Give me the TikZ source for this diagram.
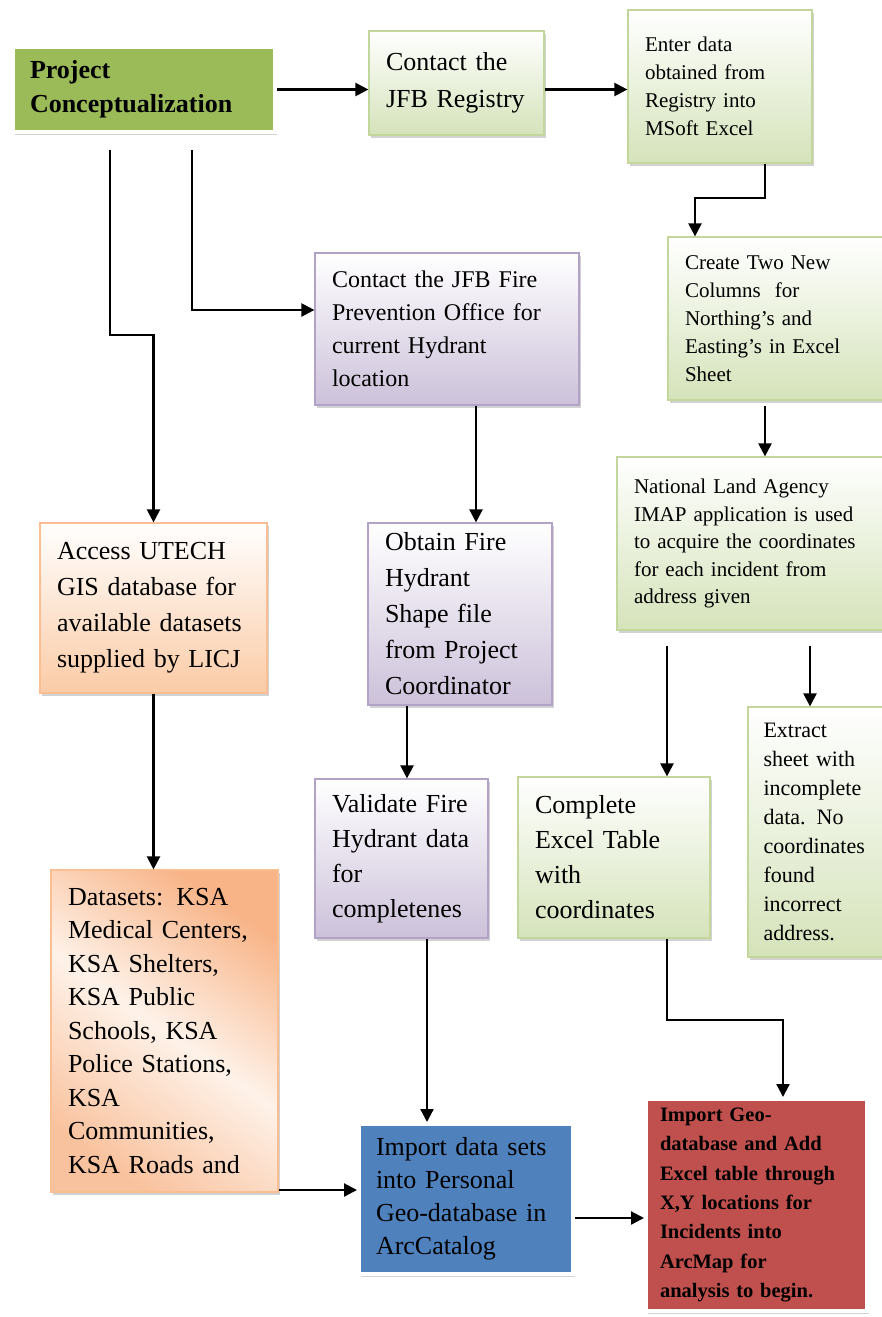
\documentclass[tikz,border=0pt]{standalone}
\usepackage{fontspec}
\setmainfont{Liberation Serif}
\usetikzlibrary{arrows.meta,shadows}

\definecolor{grnsolid}{HTML}{9BBB59}
\definecolor{grnlight}{HTML}{D5E3BA}
\definecolor{grnedge}{HTML}{C3D69B}
\definecolor{purlight}{HTML}{CCC1DA}
\definecolor{puredge}{HTML}{B3A2C7}
\definecolor{orglight}{HTML}{FBCBA6}
\definecolor{orgdark}{HTML}{F8B386}
\definecolor{orgedge}{HTML}{F9BE92}
\definecolor{bluefill}{HTML}{4F81BD}
\definecolor{redfill}{HTML}{C0504D}

\tikzset{
  box/.style={rectangle, align=left, inner xsep=17pt, inner ysep=0pt, text=black,
    drop shadow={shadow xshift=1.5pt, shadow yshift=-3pt, fill=black!35, opacity=0.5}},
  solidbox/.style={box, fill=grnsolid, draw=white, line width=4pt},
  greenbox/.style={box, draw=grnedge, line width=1.2pt, top color=white, bottom color=grnlight},
  purplebox/.style={box, draw=puredge, line width=1.2pt, top color=white, bottom color=purlight},
  orangebox/.style={box, draw=orgedge, line width=1.2pt, top color=white, bottom color=orglight},
  bluebox/.style={box, fill=bluefill, draw=white, line width=4pt},
  redbox/.style={box, fill=redfill, draw=white, line width=4pt},
  arr/.style={line width=2.2pt, -{Triangle[length=13pt,width=13pt]}},
}

\begin{document}
\begin{tikzpicture}[x=1pt,y=1pt]
\useasboundingbox (0,0) rectangle (881,-1317);

% top row
\node[solidbox, minimum width=262pt, minimum height=85pt, text width=228pt,
  font=\bfseries\fontsize{26}{34}\selectfont] at (144,-89.5) (proj) {Project\\Conceptualization};
\node[greenbox, minimum width=175pt, minimum height=104pt, text width=141pt,
  font=\fontsize{26}{37}\selectfont] at (456.5,-83) (reg) {Contact the\\JFB Registry};
\node[greenbox, minimum width=184pt, minimum height=153pt, text width=150pt,
  font=\fontsize{21}{28}\selectfont] at (720,-86.5) (enter) {Enter data\\obtained from\\Registry into\\MSoft Excel};

% right column
\node[greenbox, minimum width=217pt, minimum height=163pt, text width=183pt,
  font=\fontsize{21}{28}\selectfont] at (776.5,-318.5) (cols) {Create Two New\\Columns\ \ for\\Northing’s and\\Easting’s in Excel\\Sheet};
\node[greenbox, minimum width=268pt, minimum height=173pt, text width=234pt,
  font=\fontsize{21}{27.5}\selectfont] at (751,-543.5) (nla) {National Land Agency\\IMAP application is used\\to acquire the coordinates\\for each incident from\\address given};
\node[greenbox, minimum width=137pt, minimum height=250pt, text width=106pt, inner xsep=15.5pt,
  font=\fontsize{22}{29}\selectfont] at (816.5,-832) (ext) {Extract\\sheet with\\incomplete\\data. No\\coordinates\\found\\incorrect\\address.};
\node[greenbox, minimum width=192pt, minimum height=161pt, text width=158pt,
  font=\fontsize{26}{35}\selectfont] at (614,-857.5) (comp) {Complete\\Excel Table\\with\\coordinates};

% middle column
\node[purplebox, minimum width=264pt, minimum height=152pt, text width=230pt,
  font=\fontsize{24}{33}\selectfont] at (447,-329) (prev) {Contact the JFB Fire\\Prevention Office for\\current Hydrant\\location};
\node[purplebox, minimum width=184pt, minimum height=182pt, text width=150pt,
  font=\fontsize{26}{36}\selectfont] at (460,-614) (obt) {Obtain Fire\\Hydrant\\Shape file\\from Project\\Coordinator};
\node[purplebox, minimum width=173pt, minimum height=159pt, text width=139pt,
  font=\fontsize{26}{35}\selectfont] at (401.5,-858.5) (val) {Validate Fire\\Hydrant data\\for\\completenes};

% left column
\node[orangebox, minimum width=227pt, minimum height=170pt, text width=193pt,
  font=\fontsize{26}{36}\selectfont] at (153.5,-608) (acc) {Access UTECH\\GIS database for\\available datasets\\supplied by LICJ};
\node[orangebox, minimum width=227pt, minimum height=322pt, text width=193pt,
  top color=orgdark, bottom color=orgdark!80, middle color=orglight!25, shading angle=-35,
  font=\fontsize{26}{33.5}\selectfont] at (164.5,-1031) (data) {Datasets: KSA\\Medical Centers,\\KSA Shelters,\\KSA Public\\Schools, KSA\\Police Stations,\\KSA\\Communities,\\KSA Roads and};

% bottom row
\node[bluebox, minimum width=214pt, minimum height=150pt, text width=180pt,
  font=\fontsize{26}{33}\selectfont] at (466,-1199) (imp) {Import data sets\\into Personal\\Geo-database in\\ArcCatalog};
\node[redbox, minimum width=221pt, minimum height=212pt, text width=193pt, inner xsep=14pt,
  font=\bfseries\fontsize{20.5}{29.3}\selectfont] at (756.5,-1205) (geo) {Import Geo-\\database and Add\\Excel table through\\X,Y locations for\\Incidents into\\ArcMap for\\analysis to begin.};

% bends
\coordinate (pa) at (110,-335);
\coordinate (pb) at (192,-310);
\coordinate (ea) at (765,-198);
\coordinate (eb) at (695,-198);
\coordinate (na) at (667,0);
\coordinate (nb) at (810,0);
\coordinate (ca) at (783,-1020);
\coordinate (da) at (0,-1190);
\coordinate (ia) at (0,-1218);

% arrows
\draw[arr] (proj.east) -- (proj.east -| reg.west);
\draw[arr] (reg.east |- proj.east) -- (enter.west |- proj.east);
\draw[arr] (enter.south -| ea) -- (ea) -- (eb) -- (cols.north -| eb);
\draw[arr, shorten <=5pt] (cols.south -| ea) -- (nla.north -| ea);
\draw[arr, shorten <=16pt] (proj.south -| pa) |- (acc.north |- pa) -- (acc.north);
\draw[arr, shorten <=16pt] (proj.south -| pb) |- (prev.west |- pb);
\draw[arr] ([xshift=29pt]prev.south) -- ([xshift=16pt]obt.north);
\draw[arr] ([xshift=-53pt]obt.south) -- ([xshift=5.5pt]val.north);
\draw[arr] ([xshift=25.5pt]val.south) -- ([xshift=-39pt]imp.north);
\draw[arr] (acc.south) -- (data.north -| acc.south);
\draw[arr] (data.east |- da) -- (imp.west |- da);
\draw[arr] (imp.east |- ia) -- (geo.west |- ia);
\draw[arr, shorten <=15pt] (nla.south -| na) -- (comp.north -| na);
\draw[arr, shorten <=15pt] (nla.south -| nb) -- (ext.north -| nb);
\draw[arr] (comp.south -| na) |- (ca) -- (geo.north -| ca);

\end{tikzpicture}
\end{document}
